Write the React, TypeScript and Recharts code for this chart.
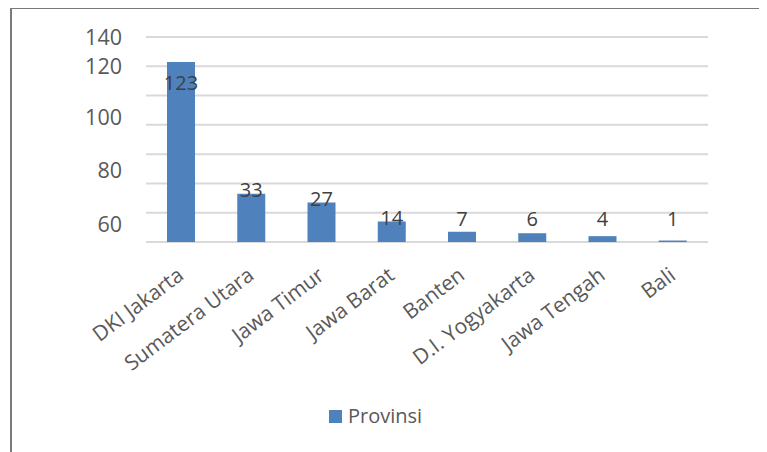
import React from "react";
import { BarChart, Bar, Line, XAxis, YAxis, CartesianGrid, Legend, LabelList } from "recharts";

const categories = ["DKI Jakarta", "Sumatera Utara", "Jawa Timur", "Jawa Barat", "Banten", "D.I. Yogyakarta", "Jawa Tengah", "Bali"];
const provinsi = [123, 33, 27, 14, 7, 6, 4, 1];

// gridlines sit on the real 0..140 scale, the printed labels do not line up with them
const gridTicks = [0, 20, 40, 60, 80, 100, 120, 140];
const yTickLabels = ["140", "120", "100", "80", "60"];
const yTickAt = [140, 120, 85, 49, 12];

const data = categories.map((name, i) => ({ name, value: provinsi[i] }));

const FONT = '"Open Sans", sans-serif';
const TEXT = "#595959";

function XTick(props: any) {
  const { x, y, payload } = props;
  return (
    <g transform={`translate(${x + 4},${y + 36})`}>
      <text x={0} y={0} textAnchor="end" transform="rotate(-37)" fill={TEXT} fontSize={21} fontFamily={FONT}>
        {payload.value}
      </text>
    </g>
  );
}

function ValueLabel(props: any) {
  const { x, y, width, height, value } = props;
  const cx = x + width / 2;
  const base = y + height;
  const cy = value > 100 ? y + 21 : Math.min(y - 4, base - 24);
  return (
    <text x={cx} y={cy} textAnchor="middle" dominantBaseline="central" fill="#404040" fontSize={20} fontFamily={FONT}>
      {value}
    </text>
  );
}

function LegendBox() {
  return (
    <div style={{ display: "flex", alignItems: "center", height: 20, lineHeight: "20px", fontFamily: FONT, fontSize: 20, color: TEXT }}>
      <span style={{ display: "inline-block", width: 13, height: 13, background: "#4f81bd", marginRight: 6 }} />
      <span>Provinsi</span>
    </div>
  );
}

export default function App() {
  return (
    <div
      style={{
        marginLeft: 2,
        marginTop: -1,
        width: 770,
        height: 446,
        borderTop: "2px solid #7a7a7a",
        borderLeft: "2px solid #7a7a7a",
        position: "relative",
        fontFamily: FONT,
      }}
    >
      <BarChart width={755} height={443} data={data} margin={{ top: 28, right: 59, bottom: 10, left: 74 }} barSize={28}>
        <CartesianGrid yAxisId="v" vertical={false} stroke="#d9d9d9" strokeWidth={2} />
        <XAxis dataKey="name" height={180} interval={0} tickLine={false} axisLine={false} tickSize={0} tickMargin={0} tick={<XTick />} />
        <YAxis yAxisId="v" domain={[0, 140]} ticks={gridTicks} hide />
        <YAxis
          yAxisId="lab"
          domain={[0, 140]}
          ticks={yTickAt}
          interval={0}
          width={60}
          axisLine={false}
          tickLine={false}
          tickSize={0}
          tickMargin={24}
          tickFormatter={(v: number) => yTickLabels[yTickAt.indexOf(v)]}
          tick={{ fill: TEXT, fontSize: 21.5, fontFamily: FONT }}
        />
        <Legend content={<LegendBox />} wrapperStyle={{ top: 397, left: 317, width: 200 }} />
        <Bar yAxisId="v" dataKey="value" name="Provinsi" fill="#4f81bd" isAnimationActive={false}>
          <LabelList dataKey="value" content={<ValueLabel />} />
        </Bar>
        {/* invisible series so the label axis gets drawn */}
        <Line yAxisId="lab" dataKey="value" stroke="none" dot={false} activeDot={false} legendType="none" isAnimationActive={false} />
      </BarChart>
    </div>
  );
}
